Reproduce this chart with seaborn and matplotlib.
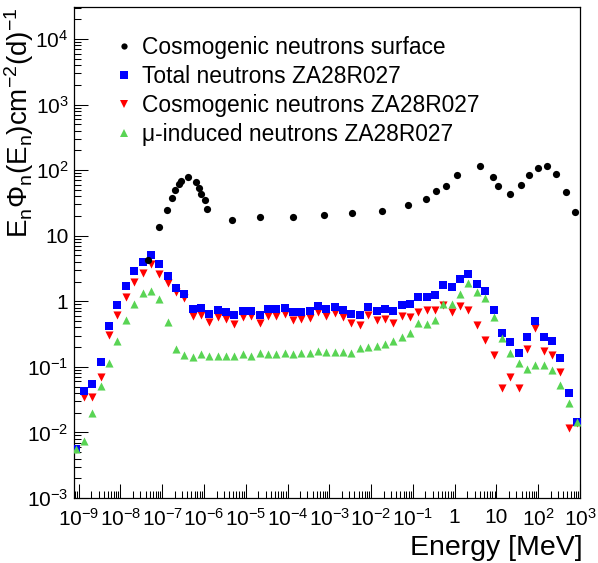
import numpy as np
import pandas as pd
import matplotlib
matplotlib.use("Agg")
import matplotlib.pyplot as plt
import seaborn as sns
from matplotlib.ticker import FixedLocator, FuncFormatter, LogLocator, NullFormatter
from matplotlib.lines import Line2D

# ---------------- data ----------------
surf_logE = [-7.341, -7.085, -6.887, -6.767, -6.695, -6.607, -6.559, -6.375, -6.193,
             -6.129, -6.064, -5.969, -5.921, -5.340, -4.663, -3.874, -3.133, -2.447,
             -1.737, -1.109, -0.685, -0.446, -0.200, 0.046, 0.596, 0.916, 1.043,
             1.330, 1.576, 1.791, 1.983, 2.222, 2.437, 2.669, 2.884]
surf_flux = [4.25, 13.4, 24.8, 37.4, 50.1, 61.8, 67.3, 78.2, 65.6,
             53.7, 43.6, 34.5, 25.2, 17.1, 19.4, 19.4, 20.6, 21.9,
             24.0, 29.0, 36.8, 47.3, 57.7, 84.7, 115, 79.1, 57.0,
             43.1, 59.7, 83.9, 106, 115, 87.9, 46.2, 22.9]

bin_logE = [-9.07, -8.87, -8.67, -8.47, -8.27, -8.07, -7.87, -7.67, -7.47, -7.27,
            -7.07, -6.87, -6.67, -6.47, -6.27, -6.07, -5.87, -5.67, -5.47, -5.27,
            -5.07, -4.87, -4.67, -4.47, -4.27, -4.07, -3.87, -3.67, -3.47, -3.27,
            -3.07, -2.87, -2.67, -2.47, -2.27, -2.07, -1.87, -1.67, -1.47, -1.27,
            -1.07, -0.87, -0.67, -0.47, -0.27, -0.07, 0.13, 0.33, 0.53, 0.73,
            0.93, 1.13, 1.33, 1.53, 1.73, 1.93, 2.13, 2.33, 2.53, 2.73, 2.93]

total_flux = [0.0056, 0.043, 0.055, 0.12, 0.42, 0.87, 1.69, 2.86, 3.94, 5.02,
              3.66, 2.40, 1.60, 1.29, 0.755, 0.78, 0.63, 0.73, 0.68, 0.61,
              0.72, 0.72, 0.61, 0.755, 0.755, 0.78, 0.68, 0.68, 0.71, 0.84,
              0.755, 0.81, 0.73, 0.63, 0.61, 0.81, 0.70, 0.76, 0.70, 0.87,
              0.90, 1.15, 1.15, 1.23, 1.75, 1.63, 2.16, 2.58, 1.82, 1.42,
              0.73, 0.325, 0.237, 0.161, 0.282, 0.495, 0.282, 0.245, 0.135, 0.0395,
              0.0143]

cosmo_flux = [0.0055, 0.035, 0.035, 0.071, 0.306, 0.62, 1.17, 1.99, 2.67, 3.66,
              2.58, 1.88, 1.40, 1.11, 0.60, 0.62, 0.49, 0.58, 0.53, 0.456,
              0.57, 0.59, 0.46, 0.60, 0.60, 0.63, 0.52, 0.53, 0.55, 0.68,
              0.59, 0.66, 0.575, 0.47, 0.43, 0.62, 0.51, 0.53, 0.46, 0.60,
              0.57, 0.69, 0.73, 0.73, 0.87, 0.69, 0.86, 0.74, 0.44, 0.26,
              0.153, 0.047, 0.071, 0.047, 0.189, 0.387, 0.176, 0.153, 0.083, 0.0118,
              0.014]

muon_flux = [0.0056, 0.0075, 0.020, 0.051, 0.113, 0.25, 0.51, 0.90, 1.35, 1.45,
             1.08, 0.49, 0.189, 0.153, 0.141, 0.157, 0.148, 0.148, 0.147, 0.149,
             0.158, 0.147, 0.161, 0.157, 0.157, 0.161, 0.157, 0.161, 0.164, 0.173,
             0.169, 0.169, 0.169, 0.163, 0.192, 0.201, 0.208, 0.223, 0.25, 0.284,
             0.334, 0.46, 0.446, 0.52, 0.92, 0.92, 1.29, 1.88, 1.39, 1.14,
             0.58, 0.273, 0.164, 0.116, 0.093, 0.108, 0.108, 0.0895, 0.052, 0.0284,
             0.0143]

labels = ["Cosmogenic neutrons surface", "Total neutrons ZA28R027",
          "Cosmogenic neutrons ZA28R027", "\u03bc-induced neutrons ZA28R027"]
xtick_vals = [1e-9, 1e-8, 1e-7, 1e-6, 1e-5, 1e-4, 1e-3, 1e-2, 1e-1, 1, 10, 1e2, 1e3]
ytick_vals = [1e-3, 1e-2, 1e-1, 1, 10, 1e2, 1e3, 1e4]

surf = pd.DataFrame({"E": 10 ** np.array(surf_logE), "flux": surf_flux})
bins = pd.DataFrame({"E": 10 ** np.array(bin_logE), "total": total_flux,
                     "cosmo": cosmo_flux, "muon": muon_flux})

# ---------------- style ----------------
sns.set_style("white")
plt.rcParams['font.family'] = ['Liberation Sans', 'DejaVu Sans']
plt.rcParams['mathtext.fontset'] = 'custom'
plt.rcParams['mathtext.rm'] = 'Liberation Sans'
plt.rcParams['mathtext.it'] = 'Liberation Sans:italic'
plt.rcParams['mathtext.bf'] = 'Liberation Sans:bold'
plt.rcParams['mathtext.default'] = 'regular'
plt.rcParams['text.color'] = 'black'
plt.rcParams['axes.labelcolor'] = 'black'
plt.rcParams['xtick.color'] = 'black'
plt.rcParams['ytick.color'] = 'black'

GREEN = '#59d454'

fig = plt.figure(figsize=(5.98, 5.63), dpi=100)
W, H = 598, 563
ax = fig.add_axes([74 / W, 1 - 498 / H, (580 - 74) / W, (498 - 7) / H])

kw = dict(linewidth=0, ax=ax, legend=False, zorder=3)
sns.scatterplot(data=bins, x="E", y="cosmo", marker="v", color="red", s=34, **kw)
sns.scatterplot(data=bins, x="E", y="total", marker="s", color="blue", s=34, **kw)
sns.scatterplot(data=bins, x="E", y="muon", marker="^", color=GREEN, s=34, **kw)
sns.scatterplot(data=surf, x="E", y="flux", marker="o", color="black", s=27, **kw)

ax.set_xscale('log')
ax.set_yscale('log')
ax.set_xlim(10 ** -9.11, 1e3)
ax.set_ylim(1e-3, 10 ** 4.488)


def fmt(v, pos=None):
    if abs(v - 1) < 1e-9:
        return '1'
    if abs(v - 10) < 1e-9:
        return '10'
    e = int(round(np.log10(v)))
    return r'$10^{%s}$' % (('\u2212%d' % -e) if e < 0 else str(e))


ax.xaxis.set_major_locator(FixedLocator(xtick_vals))
ax.xaxis.set_major_formatter(FuncFormatter(fmt))
ax.xaxis.set_minor_locator(LogLocator(base=10, subs=np.arange(2, 10), numticks=100))
ax.xaxis.set_minor_formatter(NullFormatter())
ax.yaxis.set_major_locator(FixedLocator(ytick_vals))
ax.yaxis.set_major_formatter(FuncFormatter(fmt))
ax.yaxis.set_minor_locator(LogLocator(base=10, subs=np.arange(2, 10), numticks=100))
ax.yaxis.set_minor_formatter(NullFormatter())

ax.tick_params(which='both', direction='in', bottom=True, left=True, top=False, right=False,
               colors='black', width=0.75, labelsize=15)
ax.tick_params(which='major', length=10)
ax.tick_params(which='minor', length=5)
ax.tick_params(axis='x', which='major', pad=7)
ax.tick_params(axis='y', which='major', pad=4)
for sp in ax.spines.values():
    sp.set_color('black')
    sp.set_linewidth(0.9)

ax.set_xlabel('Energy [MeV]', fontsize=20.5, loc='right', color='black')
ax.xaxis.set_label_coords(1.005, -0.075)
ax.set_ylabel(r'$E_{n}\Phi_{n}(E_{n})cm^{-2}(d)^{-1}$', fontsize=20, loc='top', color='black')
ax.yaxis.set_label_coords(-0.076, 1.0)

handles = [
    Line2D([], [], marker='o', color='black', linestyle='none', markersize=4.5, markeredgewidth=0),
    Line2D([], [], marker='s', color='blue', linestyle='none', markersize=5.5, markeredgewidth=0),
    Line2D([], [], marker='v', color='red', linestyle='none', markersize=5.5, markeredgewidth=0),
    Line2D([], [], marker='^', color=GREEN, linestyle='none', markersize=5.5, markeredgewidth=0),
]
leg = ax.legend(handles, labels, loc='upper left', bbox_to_anchor=(115 / W, 1 - 36 / H),
                bbox_transform=fig.transFigure, frameon=False, fontsize=16.4,
                handlelength=0.8, handletextpad=0.4, labelspacing=0.27,
                borderpad=0, borderaxespad=0)
for t in leg.get_texts():
    t.set_color('black')

fig.savefig('out.png', dpi=100)
